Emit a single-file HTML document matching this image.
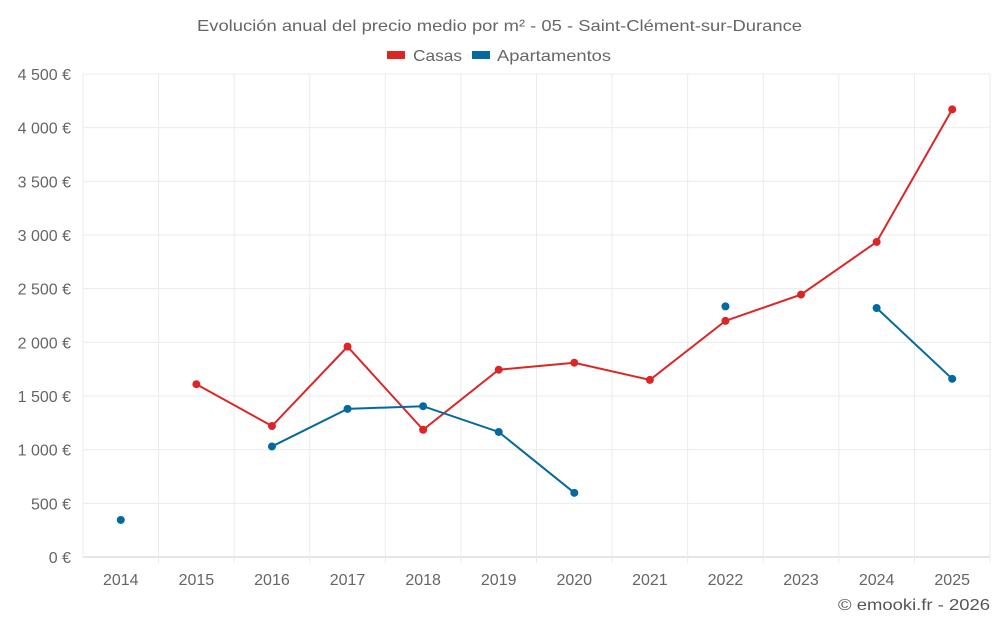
<!DOCTYPE html>
<html><head><meta charset="utf-8"><style>
html,body{margin:0;padding:0;background:#fff;}
svg{display:block;font-family:"Liberation Sans",sans-serif;}
</style></head><body>
<svg id="chart" width="1000" height="625" viewBox="0 0 1000 625">
<text x="197" y="31" textLength="605" lengthAdjust="spacingAndGlyphs" font-size="16" fill="#666">Evolución anual del precio medio por m² - 05 - Saint-Clément-sur-Durance</text>
<g>
<g><rect x="387" y="51" width="18" height="8" fill="#dc2626"/><text x="413" y="61" textLength="49" lengthAdjust="spacingAndGlyphs" font-size="16" fill="#666">Casas</text></g>
<g><rect x="472" y="51" width="18" height="8" fill="#0369a1"/><text x="497" y="61" textLength="114" lengthAdjust="spacingAndGlyphs" font-size="16" fill="#666">Apartamentos</text></g>
</g>
<g id="grid"></g><g id="axes"></g><g id="series"></g>
<text x="838" y="610" textLength="152" lengthAdjust="spacingAndGlyphs" font-size="16" fill="#555">© emooki.fr - 2026</text>
</svg>
<script>
const years=[2014,2015,2016,2017,2018,2019,2020,2021,2022,2023,2024,2025];
const casas=[null,1610,1220,1960,1185,1745,1810,1650,2200,2445,2935,4170];
const apartamentos=[345,null,1030,1380,1405,1165,598,null,2335,null,2320,1660];
const yTicks=[0,500,1000,1500,2000,2500,3000,3500,4000,4500];
const yTickLabels=["0 €","500 €","1 000 €","1 500 €","2 000 €","2 500 €","3 000 €","3 500 €","4 000 €","4 500 €"];
const NS="http://www.w3.org/2000/svg";
const L=83,R=990,T=74,B=557,yMax=4500;
const step=(R-L)/years.length;
const x=i=>L+step*(i+0.5);
const y=v=>B-(v/yMax)*(B-T);
function mk(tag,attrs,parent){const e=document.createElementNS(NS,tag);for(const k in attrs)e.setAttribute(k,attrs[k]);parent.appendChild(e);return e;}
const grid=document.getElementById('grid'),axes=document.getElementById('axes'),ser=document.getElementById('series');
yTicks.forEach((t,i)=>{
 const ln=mk('line',{x1:L,x2:R,y1:y(t),y2:y(t),stroke:i===0?'#ccc':'#ebebeb','stroke-width':1},grid);
 
 
 const tx=mk('text',{x:L-12,y:y(t)+6,'text-anchor':'end','font-size':16,fill:'#666'},axes);
 tx.textContent=yTickLabels[i];
 
 
});
for(let i=0;i<=years.length;i++){
 const ln=mk('line',{x1:L+step*i,x2:L+step*i,y1:T,y2:B+(i>0?6:0),stroke:'#ebebeb','stroke-width':1},grid);
 
 
}
years.forEach((yr,i)=>{
 const tx=mk('text',{x:x(i),y:585,'text-anchor':'middle','font-size':16,fill:'#666'},axes);
 tx.textContent=yr;
 
 
});
function drawSeries(vals,color,name){
 let seg=[];
 const segs=[];
 vals.forEach((v,i)=>{if(v==null){if(seg.length)segs.push(seg);seg=[];}else seg.push([x(i),y(v)]);});
 if(seg.length)segs.push(seg);
 segs.forEach(s=>{if(s.length>1){
  const p=mk('polyline',{points:s.map(q=>q.join(',')).join(' '),fill:'none',stroke:color,'stroke-width':2},ser);
  
  
 }});
 vals.forEach((v,i)=>{if(v!=null){
  const c=mk('circle',{cx:x(i),cy:y(v),r:4,fill:color},ser);
  
  
 }});
}
drawSeries(casas,'#dc2626','casas');
drawSeries(apartamentos,'#0369a1','apartamentos');
</script>
</body></html>
